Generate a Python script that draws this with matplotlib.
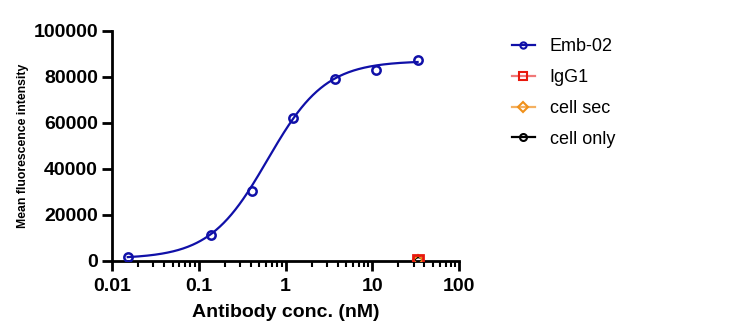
import numpy as np
import matplotlib.pyplot as plt
from matplotlib.ticker import FixedLocator, LogLocator, NullFormatter

plt.rcParams['font.family'] = ['Liberation Sans', 'DejaVu Sans']

# Emb-02 binding data (3-fold dilution)
conc = [0.0152, 0.137, 0.412, 1.23, 3.70, 11.1, 33.3]
mfi = [1700, 11500, 30500, 62300, 79100, 83000, 87400]

# controls at top concentration
ctrl_conc = [33.3]
igg1_mfi = [300]
cell_sec_mfi = [250]
cell_only_mfi = [200]

# 4PL fit parameters
bottom, top, ec50, hill = 1000, 87000, 0.62, 1.3

fig = plt.figure(figsize=(7.3, 3.34), dpi=100)
ax = fig.add_axes([0.1534, 0.2186, 0.4754, 0.6886])

xs = np.logspace(np.log10(conc[0]), np.log10(conc[-1]), 300)
fit = bottom + (top - bottom) / (1 + (ec50 / xs) ** hill)
ax.plot(xs, fit, color='#1010a8', lw=1.6, zorder=3)
ax.plot(conc, mfi, 'o', ms=6, mfc='none', mec='#1010a8', mew=1.8, zorder=4)

ax.plot(ctrl_conc, cell_only_mfi, 'o', ms=6, mfc='none', mec='black', mew=1.5, zorder=5)
ax.plot(ctrl_conc, cell_sec_mfi, 'D', ms=5, mfc='none', mec='#f0901a', mew=1.5, zorder=6)
ax.plot(ctrl_conc, igg1_mfi, 's', ms=6.5, mfc='none', mec='#e8180c', mew=2, zorder=7)

ax.set_xscale('log')
ax.set_xlim(0.01, 100)
ax.set_ylim(0, 100000)
ax.yaxis.set_major_locator(FixedLocator([0, 20000, 40000, 60000, 80000, 100000]))
ax.set_xticks([0.01, 0.1, 1, 10, 100])
ax.set_xticklabels(['0.01', '0.1', '1', '10', '100'])
ax.xaxis.set_minor_locator(LogLocator(base=10, subs=np.arange(2, 10)))
ax.xaxis.set_minor_formatter(NullFormatter())

for s in ['top', 'right']:
    ax.spines[s].set_visible(False)
for s in ['left', 'bottom']:
    ax.spines[s].set_linewidth(2)
ax.tick_params(which='major', length=7, width=2, labelsize=14, pad=3)
ax.tick_params(axis='x', which='major', pad=5)
ax.tick_params(which='minor', length=4, width=1.5)
for lab in ax.get_xticklabels() + ax.get_yticklabels():
    lab.set_fontweight('bold')

ax.set_xlabel('Antibody conc. (nM)', fontsize=14, fontweight='bold', labelpad=7)
ax.set_ylabel('Mean fluorescence intensity', fontsize=8.8, fontweight='bold', labelpad=3)

h1, = ax.plot([], [], '-o', color='#1010a8', ms=4.5, mfc='none', mew=1.5, lw=1.6)
h2, = ax.plot([], [], '-s', color='#f07878', mec='#e8180c', ms=6, mfc='none', mew=1.5, lw=1.6)
h3, = ax.plot([], [], '-D', color='#f4b060', mec='#f0901a', ms=5, mfc='none', mew=1.5, lw=1.6)
h4, = ax.plot([], [], '-o', color='black', ms=5, mfc='none', mew=1.5, lw=1.6)
fig.legend([h1, h2, h3, h4], ['Emb-02', 'IgG1', 'cell sec', 'cell only'],
           loc='upper left', bbox_to_anchor=(0.701, 0.886), frameon=False,
           fontsize=13, handlelength=1.3, handletextpad=0.8, labelspacing=0.77,
           borderpad=0, borderaxespad=0)

fig.savefig('out.png', dpi=100)
